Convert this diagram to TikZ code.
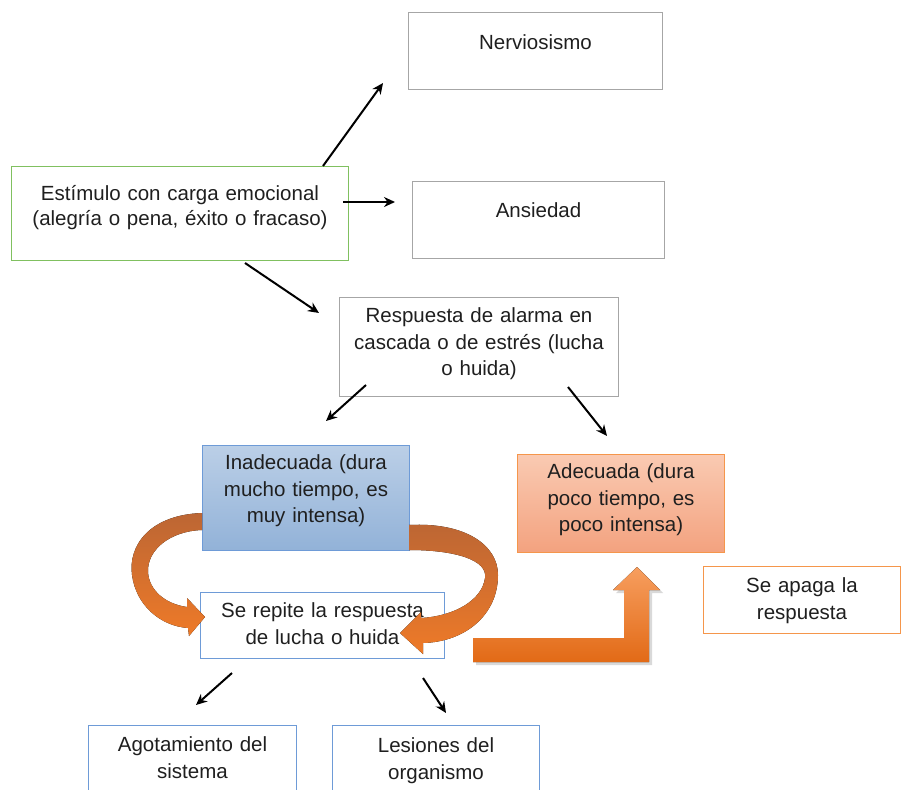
\documentclass[tikz,border=0pt]{standalone}
\usepackage{fontspec}
\setmainfont{Liberation Sans}
\usetikzlibrary{arrows.meta}
\definecolor{gris}{RGB}{166,166,166}
\definecolor{verde}{RGB}{128,192,96}
\definecolor{azul}{RGB}{110,155,215}
\definecolor{azulclaro}{RGB}{187,207,231}
\definecolor{azulosc}{RGB}{146,178,216}
\definecolor{naranja}{RGB}{245,150,75}
\definecolor{salmonclaro}{RGB}{250,202,178}
\definecolor{salmon}{RGB}{243,162,127}
\definecolor{cafe}{RGB}{188,102,52}
\definecolor{naranjafuerte}{RGB}{238,122,40}
\definecolor{naranjaclaro}{RGB}{247,158,95}
\definecolor{naranjaosc}{RGB}{226,106,22}

\begin{document}
\begin{tikzpicture}[x=1pt,y=-1pt,>={Stealth[length=11pt,width=10pt]},
  caja/.style={draw,line width=1pt,inner sep=0pt,anchor=north west,align=center,
    text=black!88,font=\fontsize{20.5}{26.5}\selectfont},
  flecha/.style={->,line width=2pt}]
\clip (0,0) rectangle (901,789);
\node[caja,draw=gris,text width=254pt,text height=37pt,text depth=40pt] (nerv) at (408,12) {Nerviosismo};
\node[caja,draw=gris,text width=252pt,text height=36pt,text depth=41pt] (ansi) at (412,181) {Ansiedad};
\node[caja,draw=verde,text width=337pt,text height=34pt,text depth=60pt,font=\fontsize{20.5}{25}\selectfont] (estim) at (11,166)
  {Estímulo con carga emocional\\(alegría o pena, éxito o fracaso)};
\node[caja,draw=gris,text width=279pt,text height=25pt,text depth=74pt] (resp) at (339,297)
  {Respuesta de alarma en\\cascada o de estrés (lucha\\o huida)};
\node[caja,draw=azul,top color=azulclaro,bottom color=azulosc,text width=207pt,text height=24pt,text depth=81pt] (inad) at (202,445)
  {Inadecuada (dura\\mucho tiempo, es\\muy intensa)};
\node[caja,draw=naranja,top color=salmonclaro,bottom color=salmon,text width=207pt,text height=24pt,text depth=74pt] (adec) at (517,454)
  {Adecuada (dura\\poco tiempo, es\\poco intensa)};
\node[caja,draw=naranja,text width=197pt,text height=26pt,text depth=41pt] (apaga) at (703,566) {Se apaga la\\respuesta};
\node[caja,draw=azul,text width=244pt,text height=25pt,text depth=41pt] (repite) at (200,592)
  {Se repite la respuesta\\de lucha o huida};
\node[caja,draw=azul,text width=208pt,text height=26pt,text depth=60pt] (agot) at (88,725) {Agotamiento del\\sistema};
\node[caja,draw=azul,text width=207pt,text height=27pt,text depth=60pt] (lesi) at (332,725) {Lesiones del\\organismo};

\coordinate (e1) at (323,166); \coordinate (n1) at (383,83);
\coordinate (e2) at (343,202); \coordinate (a1) at (395,202);
\coordinate (e3) at (245,263); \coordinate (r1) at (319,313);
\coordinate (r2) at (366,385); \coordinate (i1) at (326,421);
\coordinate (r3) at (568,387); \coordinate (d1) at (607,436);
\coordinate (s1) at (232,673); \coordinate (g1) at (196,705);
\coordinate (s2) at (423,678); \coordinate (l1) at (446,713);
\foreach \a/\b in {e1/n1,e2/a1,e3/r1,r2/i1,r3/d1,s1/g1,s2/l1}
  \draw[flecha] (\a) -- (\b);

\fill[top color=cafe,bottom color=naranjafuerte] (202,513) .. controls (150,515) and (128,545) .. (132,575)
  .. controls (136,605) and (160,626) .. (188,628) -- (189,636) -- (205,617) -- (187,598) -- (187,607)
  .. controls (165,604) and (149,590) .. (148,572) .. controls (147,550) and (170,531) .. (202,530) -- cycle;
\fill[top color=cafe,bottom color=naranjafuerte] (409,525) .. controls (465,522) and (498,545) .. (498,575)
  .. controls (498,615) and (465,642) .. (423,643) -- (423,654) -- (400,633) -- (421,612) -- (421,618)
  .. controls (455,616) and (482,600) .. (485,578) .. controls (488,560) and (455,550) .. (409,550) -- cycle;
\fill[black,opacity=.15] (476,641) -- (627,641) -- (627,593) -- (616,593) -- (640,570) -- (663,593)
  -- (652,593) -- (652,665) -- (476,665) -- cycle;
\fill[top color=naranjaclaro,bottom color=naranjaosc] (473,638) -- (624,638) -- (624,590) -- (613,590)
  -- (637,567) -- (660,590) -- (649,590) -- (649,662) -- (473,662) -- cycle;
\end{tikzpicture}
\end{document}
